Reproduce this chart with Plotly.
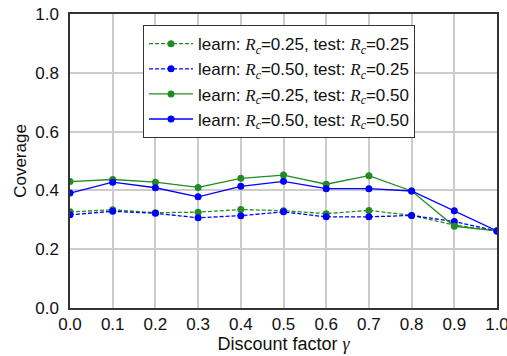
import plotly.graph_objects as go

# Discount factor sweep
gamma = [0.0, 0.1, 0.2, 0.3, 0.4, 0.5, 0.6, 0.7, 0.8, 0.9, 1.0]

# Coverage for each learn/test combination of R_c
cov_l025_t025 = [0.327, 0.334, 0.324, 0.326, 0.335, 0.331, 0.321, 0.332, 0.315, 0.282, 0.262]
cov_l050_t025 = [0.317, 0.329, 0.322, 0.307, 0.314, 0.327, 0.310, 0.310, 0.315, 0.294, 0.262]
cov_l025_t050 = [0.430, 0.437, 0.428, 0.410, 0.441, 0.452, 0.421, 0.450, 0.398, 0.278, 0.262]
cov_l050_t050 = [0.391, 0.428, 0.409, 0.378, 0.414, 0.431, 0.406, 0.406, 0.398, 0.331, 0.262]

GREEN = "#228B22"
BLUE = "#0000FF"
RC = "<span style=\"font-family:'Liberation Serif';font-style:italic\">R<sub>c</sub></span>"


def label(learn, test):
    return f"learn: {RC}={learn}, test: {RC}={test}"


series = [
    (cov_l025_t025, GREEN, "4px,2px", label("0.25", "0.25")),
    (cov_l050_t025, BLUE, "4px,2px", label("0.50", "0.25")),
    (cov_l025_t050, GREEN, "solid", label("0.25", "0.50")),
    (cov_l050_t050, BLUE, "solid", label("0.50", "0.50")),
]

fig = go.Figure()
for values, color, dash, name in series:
    fig.add_trace(go.Scatter(
        x=gamma, y=values, mode="lines+markers", name=name,
        line=dict(color=color, width=1.3, dash=dash),
        marker=dict(color=color, size=7),
    ))

axis_common = dict(
    showgrid=True, gridcolor="#cccccc", gridwidth=1.5,
    showline=True, linecolor="#333333", linewidth=1.5, mirror=True,
    zeroline=False, ticks="", tickfont=dict(size=17, color="#111"),
    automargin=False, ticklabeloverflow="allow",
)

fig.update_layout(
    width=507, height=356,
    margin=dict(l=70, r=10, t=14, b=48),
    paper_bgcolor="white", plot_bgcolor="white",
    font=dict(family="Liberation Sans, Arial, sans-serif", color="#111"),
    xaxis=dict(
        range=[0, 1], dtick=0.1, tick0=0, tickformat=".1f",
        title=dict(text="Discount factor <span style=\"font-family:'Liberation Serif';font-style:italic\">γ</span>",
                   font=dict(size=18), standoff=2),
        **axis_common,
    ),
    yaxis=dict(
        range=[0, 1], dtick=0.2, tick0=0, tickformat=".1f",
        title=dict(text="Coverage", font=dict(size=17), standoff=4),
        ticklabelstandoff=6,
        **axis_common,
    ),
    legend=dict(
        x=0.171, y=0.962, xanchor="left", yanchor="top",
        bgcolor="white", bordercolor="#333333", borderwidth=1,
        font=dict(size=17), tracegroupgap=0, itemwidth=44,
    ),
    showlegend=True,
)

fig.write_html("out.html")
